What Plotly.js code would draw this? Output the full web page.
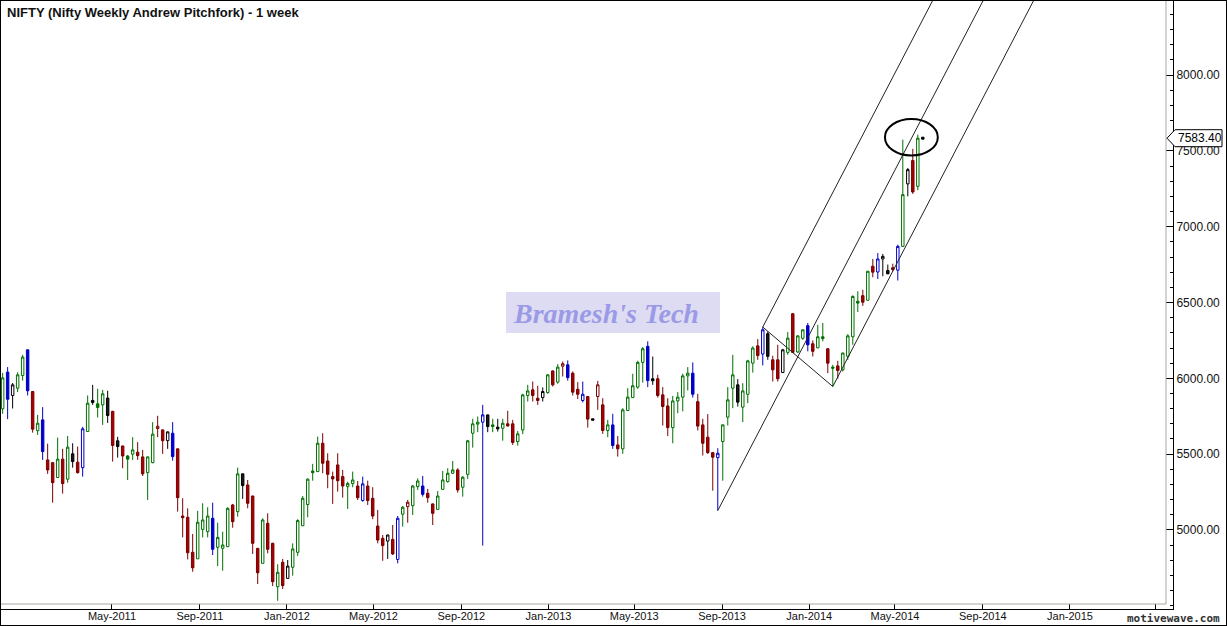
<!DOCTYPE html>
<html>
<head>
<meta charset="utf-8">
<script src="https://cdn.plot.ly/plotly-3.0.1.min.js"></script>
<style>
html,body{margin:0;padding:0;background:#fff;}
#chart{width:1225px;height:624px;border:1px solid #000;}
</style>
</head>
<body>
<div id="chart"></div>
<script>
// ---------- DATA (weekly NIFTY candles) ----------
const firstWeek = '2010-11-29';

const opens = [
5799,6041,5887,5935,6019,6188,5913,5655,5726,5462,
5444,5346,5467,5335,5502,5447,5411,5649,5854,5832,
5825,5870,5782,5588,5554,5488,5500,5513,5482,5378,
5444,5669,5660,5589,5638,5535,5092,5084,4853,4810,
5004,4989,5077,4886,4879,4890,5165,5121,5370,5297,
5224,4879,4780,5044,4912,4626,4787,4681,4754,4853,
5028,5168,5389,5385,5572,5455,5352,5429,5352,5286,
5306,5290,5194,5290,5209,5026,4945,4927,4938,4806,
5104,5154,5160,5286,5290,5242,5172,5136,5268,5319,
5374,5396,5282,5367,5638,5698,5711,5759,5693,5678,
5671,5700,5700,5583,5660,5887,5924,5869,5873,5906,
6049,5975,6080,6089,6034,5928,5854,5880,5733,5880,
5825,5656,5693,5561,5535,5788,5873,5942,6105,6211,
5997,5997,5891,5818,5675,5851,5876,6016,6034,5846,
5693,5612,5510,5477,5583,5744,5935,5957,5810,5895,
6100,6214,6160,6294,6122,6122,6038,6171,6426,6174,
6264,6347,6228,6201,6274,6195,6074,6082,6056,6145,
6274,6508,6545,6515,6739,6701,6787,6711,6729,6713,
6870,7282,7436,7266,7590
];

const highs = [
6036,6074,5969,6040,6155,6190,5915,5759,5810,5569,
5446,5609,5535,5620,5572,5550,5680,5887,5957,5931,
5924,5918,5786,5614,5556,5495,5612,5579,5528,5484,
5711,5753,5662,5649,5711,5537,5209,5143,4974,5126,
5176,5150,5180,5048,4989,5150,5172,5411,5372,5330,
5226,4881,5077,5110,4916,4774,4809,4802,4912,5071,
5224,5340,5436,5616,5638,5506,5385,5506,5396,5319,
5385,5323,5352,5325,5282,5132,4967,4969,5033,5092,
5158,5198,5297,5340,5356,5271,5174,5257,5389,5407,
5455,5407,5356,5594,5733,5748,5825,5761,5733,5733,
5733,5786,5726,5653,5898,5957,5979,5951,5940,6028,
6051,6094,6111,6118,6045,5975,5979,5882,5733,5983,
5869,5726,5766,5620,5803,5935,6030,6116,6206,6244,
6144,6023,5942,5869,5884,5909,6030,6074,6105,5898,
5733,5764,5512,5539,5695,5942,6155,5995,5968,6122,
6211,6259,6338,6309,6149,6221,6194,6305,6428,6284,
6322,6365,6250,6353,6365,6200,6089,6115,6169,6291,
6547,6574,6584,6708,6787,6826,6820,6750,6756,6881,
7574,7387,7513,7607,7590
];

const lows = [
5766,5731,5801,5909,5985,5887,5642,5627,5462,5370,
5180,5346,5240,5312,5411,5372,5352,5649,5825,5742,
5693,5706,5451,5477,5407,5330,5462,5462,5356,5198,
5440,5612,5502,5535,5457,5121,4951,4806,4725,4810,
4951,4951,4835,4762,4732,4890,5015,5088,5205,5143,
4842,4644,4780,4846,4630,4533,4611,4679,4699,4829,
5026,5084,5325,5383,5374,5275,5172,5253,5213,5139,
5282,5198,5187,5165,5071,4912,4797,4809,4835,4780,
5022,5048,5099,5264,5220,5180,5033,5134,5264,5312,
5370,5246,5220,5337,5543,5645,4897,5645,5645,5649,
5589,5682,5561,5556,5632,5847,5847,5825,5847,5898,
5946,5964,6012,5985,5887,5863,5841,5675,5722,5792,
5634,5612,5535,5484,5502,5786,5871,5931,5972,5942,
5957,5873,5689,5620,5572,5770,5782,5920,5873,5656,
5491,5502,5259,5128,5325,5689,5803,5814,5711,5836,
6038,6122,6085,6122,5979,5979,6036,6155,6167,6167,
6254,6178,6144,6199,6244,6034,5946,5997,6045,6122,
6221,6437,6478,6513,6666,6655,6673,6687,6706,6645,
6868,7200,7216,7240,7577
];

const closes = [
6003,5862,5957,6023,6140,5918,5665,5704,5517,5396,
5312,5467,5306,5546,5451,5378,5667,5836,5841,5808,
5898,5755,5557,5550,5488,5467,5528,5490,5370,5482,
5632,5684,5589,5647,5484,5213,5081,4850,4751,5051,
5066,5092,4873,4951,4901,5143,5055,5370,5293,5176,
4912,4718,5066,4873,4659,4721,4633,4762,4875,5062,
5209,5335,5378,5572,5440,5367,5337,5325,5290,5306,
5330,5213,5304,5194,5092,4934,4897,4967,4842,5077,
5150,5183,5290,5323,5235,5213,5110,5224,5330,5374,
5396,5264,5348,5588,5700,5711,5759,5682,5682,5667,
5704,5686,5577,5634,5891,5917,5887,5854,5913,6023,
5957,6074,6096,6005,5909,5895,5895,5731,5724,5957,
5656,5693,5557,5535,5792,5876,5951,6105,6195,5985,
5984,5887,5814,5675,5851,5876,6016,6034,5895,5685,
5572,5510,5480,5506,5693,5858,6023,5843,5917,6115,
6200,6150,6320,6145,6056,5997,6188,6265,6171,6280,
6320,6221,6178,6274,6262,6100,6067,6052,6167,6280,
6540,6496,6502,6706,6700,6787,6804,6689,6718,6870,
7211,7376,7229,7583.4,7577
];

// candle colour groups: g = green, r = red, b = blue, k = black
const candleColors = [
'g','b','k','g','g','b','r','g','b','r',
'r','g','r','g','k','r','b','g','k','g',
'g','k','r','k','r','g','g','r','r','g',
'g','r','r','k','b','r','r','r','r','g',
'g','g','b','g','g','g','r','g','k','r',
'r','r','g','r','r','g','r','k','g','g',
'g','g','g','g','r','r','r','r','r','g',
'g','r','b','r','r','r','r','k','r','b',
'g','r','g','g','b','r','r','g','g','g',
'g','r','g','g','g','g','b','k','g','k',
'g','r','r','g','g','g','r','r','k','g',
'r','g','r','b','r','r','b','r','k','r',
'r','g','b','r','g','g','g','g','g','b',
'k','r','r','r','g','g','g','g','b','r',
'r','r','r','b','g','g','g','k','g','g',
'g','r','b','k','r','r','k','g','r','g',
'g','b','r','g','g','r','g','r','g','g',
'g','g','r','g','r','b','k','k','r','b',
'g','k','r','g','k'
];

// Andrew pitchfork anchor pivots (Aug-2013 low, Oct-2013 high, Feb-2014 low)
const pitchforkDates = ['2013-08-26', '2013-10-28', '2014-02-03'];
const pitchforkPrices = [5128, 6338, 5946];

const lastPrice = 7583.40;

const xTickVals = ['2011-05-01','2011-09-01','2012-01-01','2012-05-01','2012-09-01','2013-01-01',
                   '2013-05-01','2013-09-01','2014-01-01','2014-05-01','2014-09-01','2015-01-01','2015-05-01'];
const xTickText = ['May-2011','Sep-2011','Jan-2012','May-2012','Sep-2012','Jan-2013',
                   'May-2013','Sep-2013','Jan-2014','May-2014','Sep-2014','Jan-2015',''];
const yTickVals = [5000, 5500, 6000, 6500, 7000, 7500, 8000];

// ---------- BUILD ----------
const DAY = 86400000;
const start = Date.parse(firstWeek + 'T00:00:00Z');
const dates = opens.map((_, i) => new Date(start + i * 7 * DAY).toISOString().slice(0, 10));

const palette = {
  g: {line: '#007000', fill: '#007000'},
  r: {line: '#7a0000', fill: '#a80000'},
  b: {line: '#0000c8', fill: '#0000c8'},
  k: {line: '#000000', fill: '#1a1a1a'}
};

const traces = [];
['g', 'r', 'b', 'k'].forEach(key => {
  const pick = arr => arr.map((v, i) => candleColors[i] === key ? v : null);
  traces.push({
    type: 'candlestick',
    x: dates,
    open: pick(opens), high: pick(highs), low: pick(lows), close: pick(closes),
    increasing: {line: {color: palette[key].line, width: 1}, fillcolor: '#ffffff'},
    decreasing: {line: {color: palette[key].line, width: 1}, fillcolor: palette[key].fill},
    whiskerwidth: 0,
    hoverinfo: 'skip',
    showlegend: false
  });
});

// pitchfork geometry from the three pivots
const pt = pitchforkDates.map(d => Date.parse(d + 'T00:00:00Z'));
const midT = (pt[1] + pt[2]) / 2, midP = (pitchforkPrices[1] + pitchforkPrices[2]) / 2;
const slope = (midP - pitchforkPrices[0]) / (midT - pt[0]);
const endPrice = 8800;
const iso = t => new Date(t).toISOString().slice(0, 19).replace('T', ' ');
function forkLine(t, p) {
  return {
    type: 'scatter', mode: 'lines',
    x: [iso(t), iso(t + (endPrice - p) / slope)],
    y: [p, endPrice],
    line: {color: '#222222', width: 1},
    hoverinfo: 'skip', showlegend: false
  };
}
traces.push(forkLine(pt[0], pitchforkPrices[0]));
traces.push(forkLine(pt[1], pitchforkPrices[1]));
traces.push(forkLine(pt[2], pitchforkPrices[2]));
traces.push({
  type: 'scatter', mode: 'lines',
  x: [pitchforkDates[1], pitchforkDates[2]],
  y: [pitchforkPrices[1], pitchforkPrices[2]],
  line: {color: '#222222', width: 1},
  hoverinfo: 'skip', showlegend: false
});

const yRange = [4479, 8488];
const tagY = (lastPrice - yRange[0]) / (yRange[1] - yRange[0]);
const font = 'Liberation Sans, Arial, sans-serif';

const layout = {
  width: 1225, height: 624,
  margin: {l: 0, r: 53, t: 0, b: 16, pad: 0},
  paper_bgcolor: '#ffffff', plot_bgcolor: '#ffffff',
  showlegend: false,
  title: {
    text: '<b>NIFTY (Nifty Weekly Andrew Pitchfork) - 1 week</b>',
    x: 6 / 1225, xanchor: 'left', y: 1 - 11 / 624, yanchor: 'middle',
    font: {family: font, size: 13, color: '#111111'}
  },
  xaxis: {
    type: 'date',
    range: ['2010-11-26 16:48', '2015-05-25 05:00'],
    rangeslider: {visible: false},
    showgrid: false, zeroline: false,
    showline: true, linecolor: '#000000', linewidth: 1,
    ticks: 'inside', ticklen: 5, tickcolor: '#000000',
    tickvals: xTickVals, ticktext: xTickText,
    tickfont: {family: font, size: 11, color: '#111111'},
    ticklabelstandoff: -3,
    fixedrange: true
  },
  yaxis: {
    side: 'right',
    range: yRange,
    showgrid: false, zeroline: false,
    showline: true, linecolor: '#000000', linewidth: 1,
    ticks: 'inside', ticklen: 7, tickcolor: '#000000',
    tickvals: yTickVals, tickformat: '.2f',
    minor: {tick0: 5000, dtick: 100, ticklen: 3, ticks: 'inside', tickcolor: '#000000', showgrid: false},
    tickfont: {family: font, size: 12, color: '#111111'},
    fixedrange: true
  },
  shapes: [
    // grey inner frame
    {type: 'line', xref: 'paper', yref: 'paper', x0: 1165 / 1172, x1: 1165 / 1172, y0: 5 / 608, y1: 1,
     line: {color: '#a8a8a0', width: 1}},
    {type: 'line', xref: 'paper', yref: 'paper', x0: 0, x1: 1165 / 1172, y0: 5 / 608, y1: 5 / 608,
     line: {color: '#a8a8a0', width: 1}},
    // watermark box
    {type: 'rect', xref: 'paper', yref: 'paper', x0: 505 / 1172, x1: 719 / 1172,
     y0: 1 - 332 / 608, y1: 1 - 291 / 608, fillcolor: '#dedcf2', line: {width: 0}, layer: 'below'},
    // highlight ellipse
    {type: 'circle', xref: 'x', yref: 'y', x0: '2014-04-17', x1: '2014-06-30', y0: 7469, y1: 7710,
     line: {color: '#000000', width: 2}},
    // last price tag
    {type: 'path', xref: 'paper', yref: 'paper', xsizemode: 'pixel', ysizemode: 'pixel',
     xanchor: 1, yanchor: tagY, path: 'M-6,0 L2,8.5 L49,8.5 L49,-8.5 L2,-8.5 Z',
     fillcolor: '#ffffff', line: {color: '#000000', width: 1}}
  ],
  annotations: [
    {xref: 'paper', yref: 'paper', x: 605 / 1172, y: 1 - 312 / 608, xanchor: 'center', yanchor: 'middle',
     text: "Bramesh's Tech", showarrow: false,
     font: {family: 'Liberation Serif, DejaVu Serif, serif', size: 28, color: '#9b9ae6', style: 'italic', weight: 'bold'}},
    {xref: 'paper', yref: 'y', x: 1175 / 1172, y: lastPrice, xanchor: 'left', yanchor: 'middle',
     text: lastPrice.toFixed(2), showarrow: false,
     font: {family: font, size: 12, color: '#000000'}},
    {xref: 'paper', yref: 'paper', x: 1221 / 1172, y: -9 / 608, xanchor: 'right', yanchor: 'middle',
     text: '<b>motivewave.com</b>', showarrow: false,
     font: {family: 'DejaVu Sans Mono, monospace', size: 11, color: '#333333'}}
  ]
};

Plotly.newPlot('chart', traces, layout, {displayModeBar: false, staticPlot: true});
</script>
</body>
</html>
